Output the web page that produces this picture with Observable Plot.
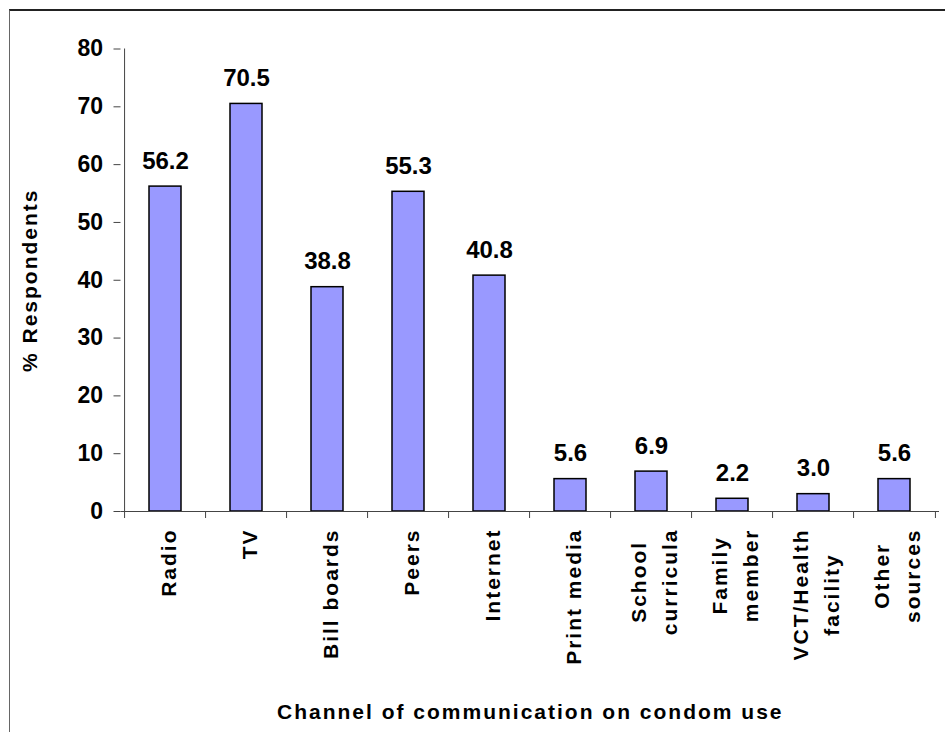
<!DOCTYPE html>
<html><head><meta charset="utf-8">
<script src="https://cdn.jsdelivr.net/npm/d3@7"></script>
<script src="https://cdn.jsdelivr.net/npm/@observablehq/plot@0.6"></script>
<style>
html,body{margin:0;padding:0;background:#fff;overflow:hidden;width:945px;height:732px;}
#frame{position:absolute;left:9px;top:9px;width:2000px;height:2000px;border-top:2px solid #222;border-left:1.5px solid #666;}
#chart{position:absolute;left:0;top:0;}
</style></head><body>
<div id="frame"></div><div id="chart"></div>
<script>
const categories = ["Radio","TV","Bill boards","Peers","Internet","Print media","School\ncurricula","Family\nmember","VCT/Health\nfacility","Other\nsources"];
const values = [56.2,70.5,38.8,55.3,40.8,5.6,6.9,2.2,3.0,5.6];
const yTicks = [0,10,20,30,40,50,60,70,80];
const xTitle = "Channel of communication on condom use";
const yTitle = "% Respondents";

const W = 945, H = 732, mL = 120.5, mR = 6, mT = 48.5, mB = 221;
const step = (W - mL - mR) / categories.length;
const font = "Arial, 'Liberation Sans', sans-serif";
const labelSize = 21, ls = 2.0;

const data = categories.map((c, i) => ({category: c, value: values[i]}));

const ctx = document.createElement("canvas").getContext("2d");
ctx.font = `bold ${labelSize}px ${font}`;
function lineLen(s) { return ctx.measureText(s).width + ls * (s.length - 1); }

const catMarks = categories.map(c => {
  const L = d3.max(c.split("\n"), lineLen);
  return Plot.text([c], {
    x: d => d, frameAnchor: "bottom", rotate: -90,
    textAnchor: "middle", lineAnchor: "middle", lineHeight: 1.5,
    fontSize: labelSize, fontWeight: "bold", fill: "black",
    dy: 18 + L / 2, ariaDescription: "spaced"
  });
});

const chart = Plot.plot({
  width: W, height: H,
  marginLeft: mL, marginRight: mR, marginTop: mT, marginBottom: mB,
  style: {fontFamily: font, background: "transparent", overflow: "visible"},
  x: {domain: categories, paddingInner: 0.6, paddingOuter: 0.3},
  y: {domain: [0, 80]},
  marks: [
    Plot.axisY(yTicks, {tickSize: 7, tickPadding: 11, fontSize: 23, fontWeight: "bold",
      stroke: "#444", fill: "black", label: null, tickFormat: d => String(d)}),
    Plot.ruleX([categories[0]], {x: d => d, dx: -step / 2, y1: 0, y2: 80, stroke: "#444"}),
    Plot.axisX(categories, {tickSize: 7, dx: -step / 2, tickFormat: () => "", stroke: "#444", label: null}),
    Plot.axisX([categories[categories.length - 1]], {tickSize: 7, dx: step / 2, tickFormat: () => "", stroke: "#444", label: null}),
    Plot.barY(data, {x: "category", y: "value", fill: "#9999ff", stroke: "black", strokeWidth: 1.5}),
    Plot.ruleY([0], {stroke: "#444"}),
    Plot.text(data, {x: "category", y: "value", text: d => d.value.toFixed(1), dy: -18,
      lineAnchor: "bottom", fontSize: 24, fontWeight: "bold", fill: "black"}),
    ...catMarks,
    Plot.text([xTitle], {frameAnchor: "bottom", dy: 207, lineAnchor: "bottom",
      fontSize: labelSize, fontWeight: "bold", fill: "black", ariaDescription: "spaced"}),
    Plot.text([yTitle], {frameAnchor: "left", rotate: -90, dx: -91, textAnchor: "middle",
      lineAnchor: "middle", fontSize: labelSize, fontWeight: "bold", fill: "black", ariaDescription: "spaced"})
  ]
});
const spacedStrings = new Set([...categories, xTitle, yTitle]);
chart.querySelectorAll('g[aria-description="spaced"] text').forEach(t => t.style.letterSpacing = ls + "px");
chart.querySelectorAll("text").forEach(t => {
  if (spacedStrings.has(t.textContent) || [...t.querySelectorAll("tspan")].length > 1) t.style.letterSpacing = ls + "px";
});
document.getElementById("chart").appendChild(chart);
</script>
</body></html>
